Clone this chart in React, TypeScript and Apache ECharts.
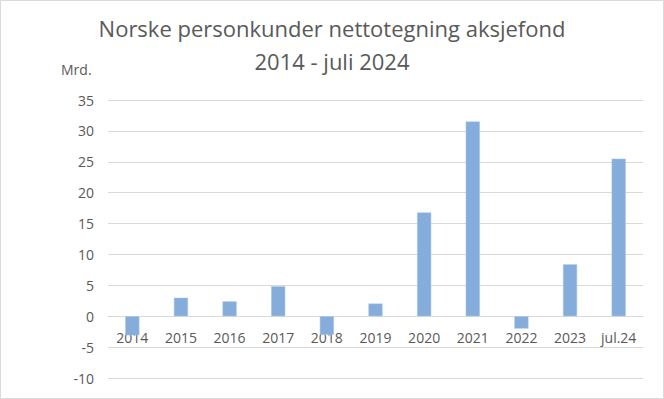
import React, { useEffect, useRef } from "react";
import * as echarts from "echarts";

const categories = ["2014", "2015", "2016", "2017", "2018", "2019", "2020", "2021", "2022", "2023", "jul.24"];
const values = [-3.1, 3.0, 2.4, 4.85, -3.0, 2.05, 16.8, 31.5, -2.0, 8.4, 25.5];
const titleLines = ["Norske personkunder nettotegning aksjefond", "2014 - juli 2024"];
const unitLabel = "Mrd.";

export default function App() {
  const ref = useRef<HTMLDivElement>(null);
  useEffect(() => {
    document.body.style.margin = "0";
    const chart = echarts.init(ref.current!, null, { renderer: "svg" });
    const font = "Open Sans, Noto Sans, sans-serif";
    chart.setOption({
      animation: false,
      backgroundColor: "#ffffff",
      textStyle: { fontFamily: font },
      title: {
        text: titleLines.join("\n"),
        left: "center",
        top: 6,
        textStyle: { fontSize: 22, fontWeight: "normal", color: "#595959", lineHeight: 33, fontFamily: font },
      },
      graphic: [
        {
          type: "rect",
          shape: { x: 0.5, y: 0.5, width: 663, height: 398 },
          style: { fill: "none", stroke: "#d9d9d9", lineWidth: 1 },
          silent: true,
        },
        {
          type: "text",
          left: 61,
          top: 62,
          style: { text: unitLabel, fontSize: 14, fill: "#595959", fontFamily: font },
        },
      ],
      grid: { left: 108, right: 21, top: 100, bottom: 21, containLabel: false, outerBoundsMode: "none" },
      xAxis: {
        type: "category",
        data: categories,
        offset: -62,
        axisLine: { onZero: false, lineStyle: { color: "#d9d9d9", width: 1 } },
        axisTick: { show: false },
        axisLabel: { color: "#595959", fontSize: 14, margin: 14, fontFamily: font },
      },
      yAxis: {
        type: "value",
        min: -10,
        max: 35,
        interval: 5,
        axisLine: { show: false },
        axisTick: { show: false },
        axisLabel: { color: "#595959", fontSize: 14, margin: 14, fontFamily: font },
        splitLine: { lineStyle: { color: "#d9d9d9", width: 1 } },
      },
      series: [
        {
          type: "bar",
          data: values,
          barWidth: "29%",
          itemStyle: { color: "#84addc", borderColor: "#a9c6e8", borderWidth: 0.5 },
        },
      ],
    });
    return () => chart.dispose();
  }, []);
  return <div ref={ref} style={{ width: 664, height: 399 }} />;
}
